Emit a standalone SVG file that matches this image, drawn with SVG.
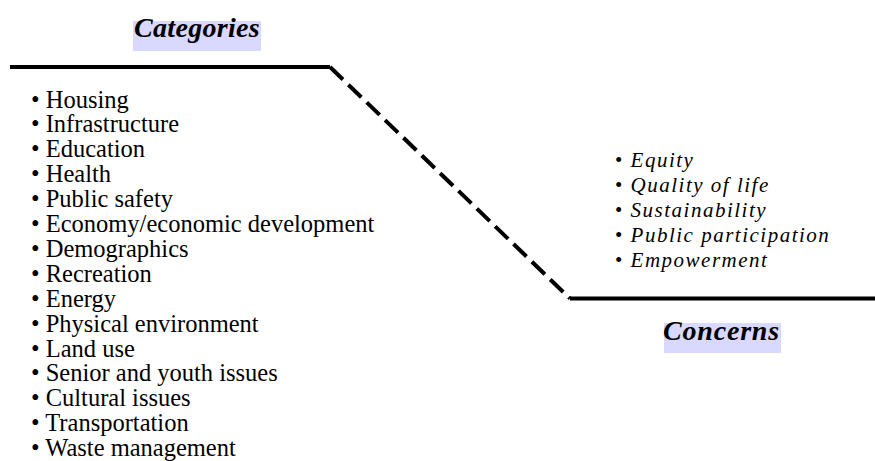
<svg xmlns="http://www.w3.org/2000/svg" width="875" height="461" viewBox="0 0 875 461">
<style>
.bg{fill:#ffffff}
.lbl{fill:#d9d9ff}
.title{font-family:"Liberation Serif","Times New Roman",serif;font-weight:bold;font-style:italic;font-size:28px;fill:#000}
.cat{font-family:"Liberation Serif","Times New Roman",serif;font-size:24.5px;fill:#000}
.con{font-family:"Liberation Serif","Times New Roman",serif;font-size:21px;letter-spacing:1.5px;fill:#000}
.it{font-style:italic}
.solid{fill:none;stroke:#000;stroke-width:4}
.dash{fill:none;stroke:#000;stroke-width:4;stroke-dasharray:18 7.5}
</style>
<rect class="bg" x="0" y="0" width="875" height="461"/>
<g id="connectors">
<path class="solid" d="M10,67 H330"/>
<path class="dash" d="M330,67 L570,298.5"/>
<path class="solid" d="M570,298.5 H875"/>
</g>
<g id="categories-label">
<rect class="lbl" x="133" y="21" width="128" height="30"/>
<text class="title" x="197" y="37" text-anchor="middle" letter-spacing="0.3">Categories</text>
</g>
<g id="concerns-label">
<rect class="lbl" x="664" y="323" width="117" height="30"/>
<text class="title" x="721.5" y="340" text-anchor="middle" letter-spacing="0.8">Concerns</text>
</g>
<g id="categories-list" class="cat">
<text x="31" y="107.5">• Housing</text>
<text x="31" y="132.4">• Infrastructure</text>
<text x="31" y="157.3">• Education</text>
<text x="31" y="182.2">• Health</text>
<text x="31" y="207.1">• Public safety</text>
<text x="31" y="232">• Economy/economic development</text>
<text x="31" y="256.9">• Demographics</text>
<text x="31" y="281.8">• Recreation</text>
<text x="31" y="306.7">• Energy</text>
<text x="31" y="331.6">• Physical environment</text>
<text x="31" y="356.5">• Land use</text>
<text x="31" y="381.4">• Senior and youth issues</text>
<text x="31" y="406.3">• Cultural issues</text>
<text x="31" y="431.2">• Transportation</text>
<text x="31" y="456">• Waste management</text>
</g>
<g id="concerns-list" class="con">
<text x="615" y="167">• <tspan class="it">Equity</tspan></text>
<text x="615" y="192">• <tspan class="it">Quality of life</tspan></text>
<text x="615" y="217">• <tspan class="it">Sustainability</tspan></text>
<text x="615" y="242">• <tspan class="it">Public participation</tspan></text>
<text x="615" y="267">• <tspan class="it">Empowerment</tspan></text>
</g>
</svg>
